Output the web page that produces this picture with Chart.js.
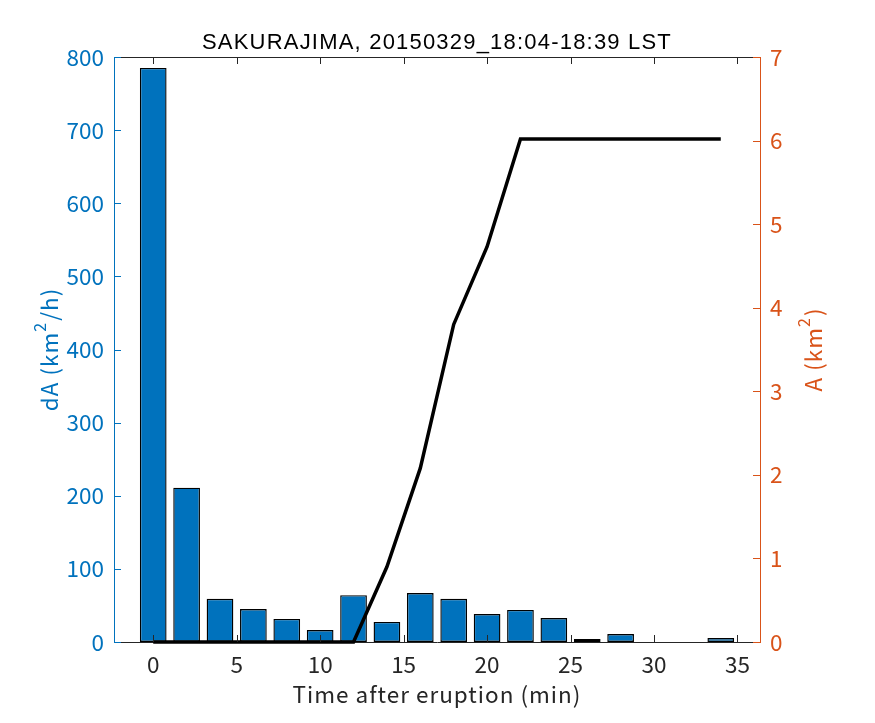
<!DOCTYPE html>
<html>
<head>
<meta charset="utf-8">
<script src="https://cdn.jsdelivr.net/npm/chart.js@4"></script>
<style>
  html, body { margin: 0; padding: 0; background: #fff; }
  canvas { display: block; }
</style>
</head>
<body>
<canvas id="chart" width="875" height="723"></canvas>
<script>
// time after eruption (min), bar centres
const minutes = [0, 2, 4, 6, 8, 10, 12, 14, 16, 18, 20, 22, 24, 26, 28, 30, 32, 34];
// area growth rate dA (km^2/h)
const rateDA = [785, 211, 59, 45, 31.5, 16.4, 64, 27.4, 67, 59, 38.3, 43.8, 32.8, 4.1, 10.9, 0, 0, 5.5];
// cumulative area A (km^2)
const areaA = [0, 0, 0, 0, 0, 0, 0, 0.9, 2.08, 3.8, 4.73, 6.02, 6.02, 6.02, 6.02, 6.02, 6.02, 6.02];

const xTicks = [0, 5, 10, 15, 20, 25, 30, 35];
const leftTicks = [0, 100, 200, 300, 400, 500, 600, 700, 800];
const rightTicks = [0, 1, 2, 3, 4, 5, 6, 7];

const titleText = 'SAKURAJIMA, 20150329_18:04-18:39 LST';
const xTitle = 'Time after eruption (min)';

const BLUE = '#0072BD';
const ORANGE = '#D95319';
const DARK = '#262626';
const FONT = '"Noto Sans CJK JP", "Noto Sans", sans-serif';
const TITLE_FONT = '"Liberation Sans", Arial, sans-serif';

function setTicks(list) {
    return scale => { scale.ticks = list.map(v => ({ value: v })); };
}

// MATLAB-like frame: inward ticks, top edge, titles with superscripts
const frame = {
    id: 'frame',
    afterDatasetsDraw(chart) {
        const { ctx, chartArea: a, scales } = chart;
        const len = 7;
        ctx.save();
        ctx.lineWidth = 1;

        ctx.strokeStyle = DARK;
        ctx.beginPath();
        ctx.moveTo(a.left, a.top + 0.5);
        ctx.lineTo(a.right, a.top + 0.5);
        xTicks.forEach(v => {
            const px = Math.round(scales.x.getPixelForValue(v)) + 0.5;
            ctx.moveTo(px, a.bottom);
            ctx.lineTo(px, a.bottom - len);
            ctx.moveTo(px, a.top);
            ctx.lineTo(px, a.top + len);
        });
        ctx.stroke();

        ctx.strokeStyle = BLUE;
        ctx.beginPath();
        leftTicks.forEach(v => {
            const py = Math.round(scales.y.getPixelForValue(v)) + 0.5;
            ctx.moveTo(a.left, py);
            ctx.lineTo(a.left + len, py);
        });
        ctx.stroke();

        ctx.strokeStyle = ORANGE;
        ctx.beginPath();
        rightTicks.forEach(v => {
            const py = Math.round(scales.y1.getPixelForValue(v)) + 0.5;
            ctx.moveTo(a.right, py);
            ctx.lineTo(a.right - len, py);
        });
        ctx.stroke();
        ctx.restore();
    },
    afterDraw(chart) {
        const { ctx, chartArea: a } = chart;
        const cx = (a.left + a.right) / 2;
        const cy = (a.top + a.bottom) / 2;
        ctx.save();
        ctx.textBaseline = 'alphabetic';
        ctx.textAlign = 'left';

        ctx.fillStyle = '#000';
        ctx.font = '22px ' + TITLE_FONT;
        ctx.letterSpacing = '1.2px';
        let w = ctx.measureText(titleText).width;
        ctx.fillText(titleText, cx - w / 2, 49);

        ctx.fillStyle = DARK;
        ctx.font = '22.5px ' + FONT;
        ctx.letterSpacing = '1px';
        w = ctx.measureText(xTitle).width;
        ctx.fillText(xTitle, cx - w / 2, 703);

        drawSupTitle(ctx, 58, cy, ['dA (km', '2', '/h)'], BLUE);
        drawSupTitle(ctx, 822, cy, ['A (km', '2', ')'], ORANGE);
        ctx.restore();
    }
};

function drawSupTitle(ctx, x, y, parts, color) {
    const big = '22.5px ' + FONT;
    const small = '16px ' + FONT;
    ctx.letterSpacing = '1px';
    ctx.font = big;
    const w0 = ctx.measureText(parts[0]).width;
    const w2 = ctx.measureText(parts[2]).width;
    ctx.font = small;
    const w1 = ctx.measureText(parts[1]).width + 1;
    const total = w0 + w1 + w2;
    ctx.save();
    ctx.translate(x, y);
    ctx.rotate(-Math.PI / 2);
    ctx.fillStyle = color;
    ctx.textAlign = 'left';
    let pos = -total / 2;
    ctx.font = big;
    ctx.fillText(parts[0], pos, 0);
    pos += w0;
    ctx.font = small;
    ctx.fillText(parts[1], pos, -12);
    pos += w1;
    ctx.font = big;
    ctx.fillText(parts[2], pos, 0);
    ctx.restore();
}

const ctx = document.getElementById('chart').getContext('2d');
new Chart(ctx, {
    data: {
        datasets: [{
            type: 'line',
            data: minutes.map((m, i) => ({ x: m, y: areaA[i] })),
            yAxisID: 'y1',
            borderColor: '#000',
            borderWidth: 3.5,
            pointRadius: 0,
            tension: 0,
            clip: false,
            order: 0
        }, {
            type: 'bar',
            data: minutes.map((m, i) => ({ x: m, y: rateDA[i] })),
            yAxisID: 'y',
            backgroundColor: BLUE,
            borderColor: '#000',
            borderWidth: 1.4,
            borderSkipped: false,
            barPercentage: 0.8,
            categoryPercentage: 1.0,
            order: 1
        }]
    },
    options: {
        responsive: false,
        animation: false,
        devicePixelRatio: 1,
        layout: { padding: { top: 57, left: 0, right: 0, bottom: 0 } },
        plugins: {
            legend: { display: false },
            tooltip: { enabled: false },
            title: { display: false }
        },
        scales: {
            x: {
                type: 'linear',
                position: 'bottom',
                min: -2.35,
                max: 36.35,
                offset: false,
                afterBuildTicks: setTicks(xTicks),
                afterFit: s => { s.height = 81; },
                grid: { display: false, drawTicks: false },
                border: { display: true, color: DARK, width: 1 },
                ticks: { color: DARK, font: { family: FONT, size: 22.5 }, padding: 9, maxRotation: 0, autoSkip: false }
            },
            y: {
                type: 'linear',
                position: 'left',
                min: 0,
                max: 800,
                afterBuildTicks: setTicks(leftTicks),
                afterFit: s => { s.width = 114; },
                grid: { display: false, drawTicks: false },
                border: { display: true, color: BLUE, width: 1 },
                ticks: { color: BLUE, font: { family: FONT, size: 22.5 }, padding: 10 }
            },
            y1: {
                type: 'linear',
                position: 'right',
                min: 0,
                max: 7,
                afterBuildTicks: setTicks(rightTicks),
                afterFit: s => { s.width = 115; },
                grid: { display: false, drawTicks: false },
                border: { display: true, color: ORANGE, width: 1 },
                ticks: { color: ORANGE, font: { family: FONT, size: 22.5 }, padding: 10 }
            }
        }
    },
    plugins: [frame]
});
</script>
</body>
</html>
